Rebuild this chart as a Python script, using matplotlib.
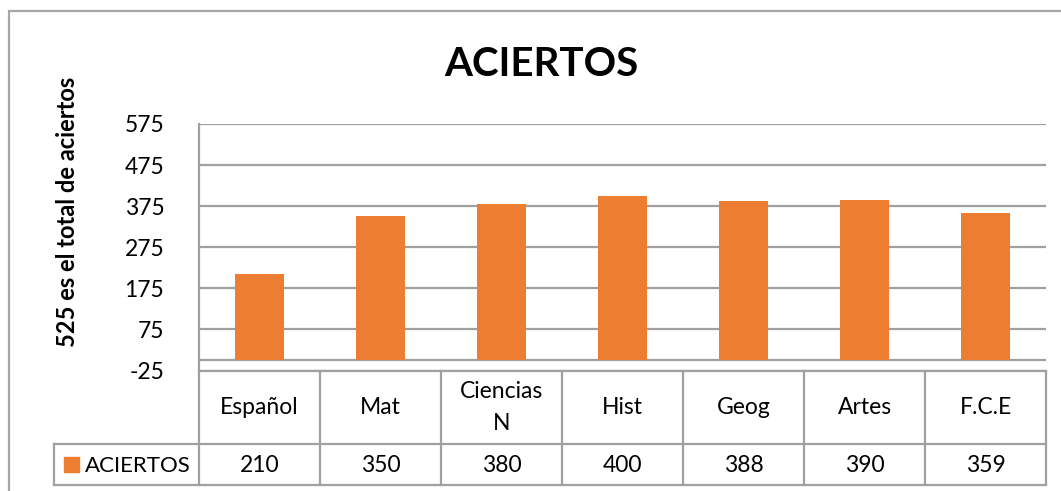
import matplotlib
matplotlib.use("Agg")
import matplotlib.pyplot as plt
from matplotlib.transforms import blended_transform_factory
from matplotlib.patches import Rectangle
from matplotlib.lines import Line2D

plt.rcParams['font.family'] = ['Lato', 'DejaVu Sans']

categories = ["Español", "Mat", "Ciencias\nN", "Hist", "Geog", "Artes", "F.C.E"]
values = [210, 350, 380, 400, 388, 390, 359]
series_name = "ACIERTOS"
title = "ACIERTOS"
ylabel = "525 es el total de aciertos"
yticks = [-25, 75, 175, 275, 375, 475, 575]

W, H = 1061, 491
fig = plt.figure(figsize=(W / 100, H / 100), dpi=100)

def fx(x):
    return x / W

def fy(y):
    return 1 - y / H

grid_c = "#a0a0a0"
bar_c = "#ED7D31"

ax_left, ax_right, ax_top, ax_bot = 199, 1046, 124, 370.5
ax = fig.add_axes([fx(ax_left), fy(ax_bot), fx(ax_right) - fx(ax_left), fy(ax_top) - fy(ax_bot)])
ax.set_xlim(-0.5, len(categories) - 0.5)
ax.set_ylim(yticks[0], yticks[-1])
ax.set_yticks(yticks)
ax.set_yticklabels([str(t) for t in yticks], fontsize=16.5)
ax.tick_params(axis='y', length=0, pad=25)
ax.set_xticks([])
ax.yaxis.grid(True, color=grid_c, linewidth=1.6)
ax.set_axisbelow(True)
for s in ["top", "right", "bottom"]:
    ax.spines[s].set_visible(False)
ax.spines["left"].set_color(grid_c)
ax.spines["left"].set_linewidth(1.6)
ax.axhline(0, color=grid_c, linewidth=1.6, zorder=1)

x = list(range(len(categories)))
ax.bar(x, values, width=0.4, color=bar_c, zorder=2)

# Title and y label
fig.text(fx(541), fy(65), title, fontsize=29, fontweight='bold', ha='center', va='center')
fig.text(fx(68), fy(212), ylabel, fontsize=17, fontweight='bold', rotation=90, ha='center', va='center')

# Data table
tr = blended_transform_factory(ax.transData, fig.transFigure)
row1_top, row1_bot, row2_bot = 371, 444, 485
leg_left = 54
lw = 1.6

def hline(x0, x1, y):
    fig.add_artist(Line2D([fx(x0), fx(x1)], [fy(y), fy(y)], color=grid_c, linewidth=lw))

def vline(xp, y0, y1):
    fig.add_artist(Line2D([fx(xp), fx(xp)], [fy(y0), fy(y1)], color=grid_c, linewidth=lw))

hline(ax_left, ax_right, row1_top)
hline(leg_left, ax_right, row1_bot)
hline(leg_left, ax_right, row2_bot)
vline(leg_left, row1_bot, row2_bot)
n = len(categories)
for i in range(n + 1):
    xp = ax_left + (ax_right - ax_left) * i / n
    vline(xp, row1_top, row2_bot)

for i, (c, v) in enumerate(zip(categories, values)):
    fig.text(i, fy((row1_top + row1_bot) / 2), c, transform=tr, fontsize=16.5,
             ha='center', va='center', linespacing=1.6)
    fig.text(i, fy((row1_bot + row2_bot) / 2 + 1), str(v), transform=tr, fontsize=16.5,
             ha='center', va='center')

# legend key in table
fig.add_artist(Rectangle((fx(64), fy(472)), fx(15), fy(457) - fy(472), color=bar_c, transform=fig.transFigure))
fig.text(fx(85), fy((row1_bot + row2_bot) / 2 + 1), series_name, fontsize=16, ha='left', va='center')

# outer chart border
fig.add_artist(Rectangle((fx(9), fy(600)), fx(1200), fy(11) - fy(600), fill=False,
                         edgecolor="#a6a6a6", linewidth=1.6, transform=fig.transFigure))

fig.savefig("out.png", dpi=100)
